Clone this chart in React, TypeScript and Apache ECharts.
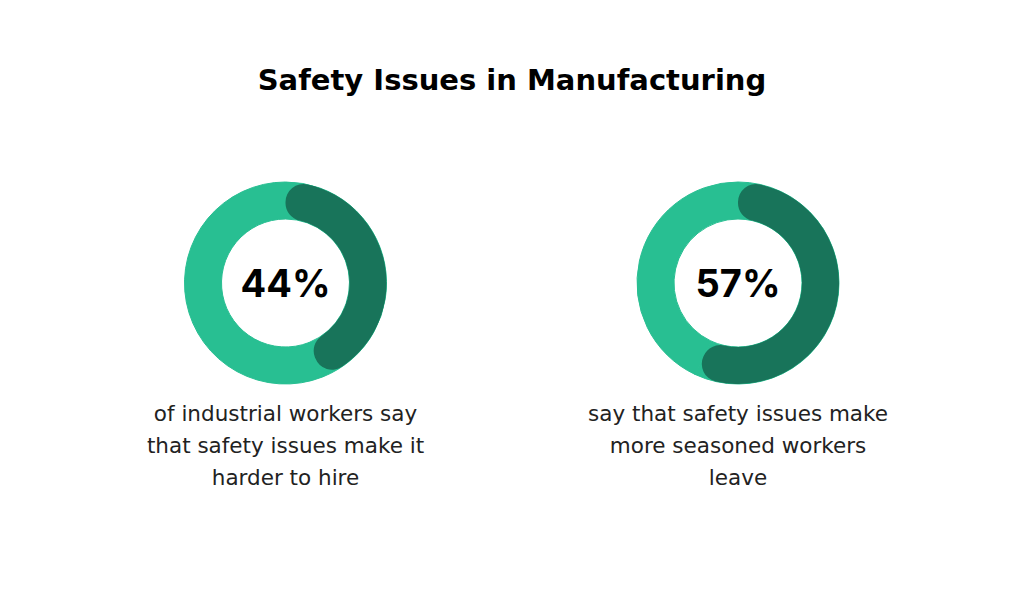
import React from 'react';
import * as echarts from 'echarts';

// chart data
const title = 'Safety Issues in Manufacturing';
const shares = [44, 57];
const captions = [
  ['of industrial workers say', 'that safety issues make it', 'harder to hire'],
  ['say that safety issues make', 'more seasoned workers', 'leave'],
];
const centersX = [285.5, 738];

const LIGHT = '#28bf92';
const DARK = '#18745a';

const App: React.FC = () => {
  const chartRef = React.useRef<HTMLDivElement>(null);

  React.useEffect(() => {
    if (!chartRef.current) return;
    document.body.style.margin = '0';
    const chart = echarts.init(chartRef.current, undefined, { renderer: 'svg' });

    const series: any[] = [];
    shares.forEach((v, i) => {
      const center = [centersX[i], 283];
      // background ring
      series.push({
        type: 'pie',
        silent: true,
        center,
        radius: [64, 101],
        label: { show: false },
        labelLine: { show: false },
        itemStyle: { color: LIGHT, borderColor: LIGHT, borderWidth: 1 },
        data: [{ value: v }, { value: 100 - v }],
      });
      // highlighted share
      series.push({
        type: 'pie',
        silent: true,
        center,
        radius: [64, 101],
        labelLine: { show: false },
        data: [
          {
            value: v,
            itemStyle: { color: DARK, borderRadius: 18 },
            label: {
              show: true,
              position: 'center',
              formatter: '{c}%',
              color: '#000',
              fontFamily: 'Inter',
              fontWeight: 'bold',
              fontSize: 38,
            },
          },
          {
            value: 100 - v,
            itemStyle: { color: 'transparent' },
            label: { show: false },
          },
        ],
      });
    });

    const option = {
      animation: false,
      title: {
        text: title,
        left: 'center',
        top: 60,
        textStyle: {
          fontFamily: 'DejaVu Sans',
          fontWeight: 'bold',
          fontSize: 29,
          color: '#000',
        },
      },
      graphic: captions.map((lines, i) => ({
        type: 'text',
        x: centersX[i],
        y: 397,
        style: {
          text: lines.join('\n'),
          textAlign: 'center',
          textVerticalAlign: 'top',
          lineHeight: 32,
          fontFamily: 'DejaVu Sans',
          fontWeight: 'normal',
          fontSize: 21.5,
          fill: '#222',
        },
      })),
      series,
    };

    chart.setOption(option);

    return () => {
      chart.dispose();
    };
  }, []);

  return <div ref={chartRef} style={{ width: '1024px', height: '597px' }} />;
};

export default App;
